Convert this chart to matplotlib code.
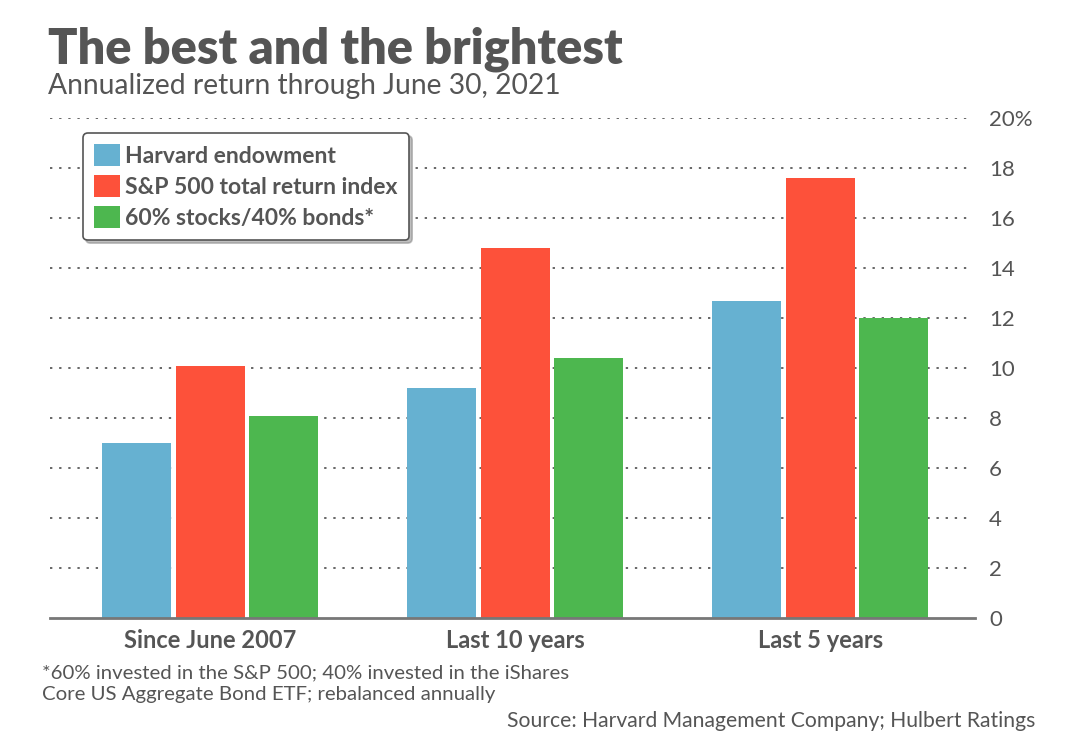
import matplotlib.pyplot as plt
from matplotlib.patches import Patch
import numpy as np

plt.rcParams['font.family'] = ['Lato', 'DejaVu Sans']

# Données
categories = ["Since June 2007", "Last 10 years", "Last 5 years"]
series_names = ["Harvard endowment", "S&P 500 total return index", "60% stocks/40% bonds*"]
harvard = [7.0, 9.2, 12.7]
sp500 = [10.1, 14.8, 17.6]
mix_60_40 = [8.1, 10.4, 12.0]
y_ticks = [0, 2, 4, 6, 8, 10, 12, 14, 16, 18, 20]
y_tick_labels = ["0", "2", "4", "6", "8", "10", "12", "14", "16", "18", "20%"]

colors = ["#66b1d1", "#fd513a", "#4db74f"]
text_grey = "#555555"

fig = plt.figure(figsize=(10.8, 7.49), dpi=100)
ax = fig.add_axes([50 / 1080, 1 - 618 / 749, 925 / 1080, 500 / 749])

x = np.arange(len(categories))
width = 0.226
step = 0.24
for i, (vals, col) in enumerate(zip([harvard, sp500, mix_60_40], colors)):
    ax.bar(x + (i - 1) * step, vals, width=width, color=col, zorder=3)

ax.set_xlim(-0.525, 2.508)
ax.set_ylim(0, 20)

# grille pointillée
for t in y_ticks[1:]:
    ax.axhline(t, color="#666666", lw=1.4, linestyle=(0, (1.2, 3.5)), zorder=1, xmax=0.995)
ax.axhline(0, color="#777777", lw=2, zorder=4, clip_on=False)

for s in ax.spines.values():
    s.set_visible(False)

ax.yaxis.tick_right()
ax.set_yticks(y_ticks)
ax.set_yticklabels(y_tick_labels)
ax.tick_params(axis="y", length=0, pad=10, labelsize=16, labelcolor=text_grey)
ax.set_xticks(x)
ax.set_xticklabels(categories, fontweight="bold")
ax.tick_params(axis="x", length=0, pad=8, labelsize=17, labelcolor=text_grey)

# légende
handles = [Patch(facecolor=c, edgecolor="none", label=n) for c, n in zip(colors, series_names)]
leg = ax.legend(handles=handles, loc="upper left", bbox_to_anchor=(0.0357, 0.97),
                borderaxespad=0, fontsize=16.5, frameon=True, fancybox=True,
                shadow={"color": "0.5", "alpha": 0.5},
                handlelength=1.1, handleheight=1.1, handletextpad=0.25, labelspacing=0.35,
                borderpad=0.5, edgecolor="#555555", framealpha=1)
for t in leg.get_texts():
    t.set_color(text_grey)
    t.set_fontweight("bold")
leg.get_frame().set_linewidth(1.2)

# titres
fig.text(48 / 1080, 1 - 63 / 749, "The best and the brightest", fontsize=35,
         fontweight="heavy", color=text_grey, ha="left", va="baseline")
fig.text(48 / 1080, 1 - 94 / 749, "Annualized return through June 30, 2021", fontsize=20.3,
         color=text_grey, ha="left", va="baseline")

# notes
fig.text(42 / 1080, 1 - 678 / 749, "*60% invested in the S&P 500; 40% invested in the iShares",
         fontsize=14.7, color=text_grey, ha="left", va="baseline")
fig.text(42 / 1080, 1 - 700 / 749, "Core US Aggregate Bond ETF; rebalanced annually",
         fontsize=14.7, color=text_grey, ha="left", va="baseline")
fig.text(1035 / 1080, 1 - 727 / 749, "Source: Harvard Management Company; Hulbert Ratings",
         fontsize=15.2, color=text_grey, ha="right", va="baseline")

fig.savefig("out.png", dpi=100)
